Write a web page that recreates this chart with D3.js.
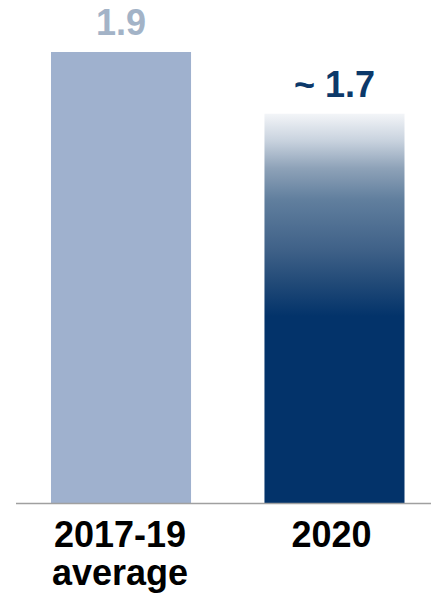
<!DOCTYPE html>
<html>
<head>
<meta charset="utf-8">
<script src="https://cdn.jsdelivr.net/npm/d3@7"></script>
<style>
  html, body { margin: 0; padding: 0; background: #ffffff; }
  svg { display: block; }
  text { font-family: "Liberation Sans", Arial, sans-serif; font-weight: bold; }
</style>
</head>
<body>
<svg id="chart" width="431" height="596"></svg>
<script>
const categories = ["2017-19 average", "2020"];
const categoryLines = [["2017-19", "average"], ["2020"]];
const values = [1.9, 1.64];
const valueLabels = ["1.9", "~ 1.7"];

const W = 431, H = 596;
const svg = d3.select("#chart");

const x = d3.scaleBand().domain(categories).range([51, 404.5]).paddingInner(0.344).paddingOuter(0);
const y = d3.scaleLinear().domain([0, 1.9]).range([503, 52]);

const defs = svg.append("defs");
const grad = defs.append("linearGradient")
  .attr("id", "g2020").attr("x1", 0).attr("y1", 0).attr("x2", 0).attr("y2", 1);
[[0, "#f3f5f8"], [0.07, "#c8d2de"], [0.14, "#8ea2b8"], [0.22, "#617f9e"],
 [0.35, "#3f6188"], [0.43, "#234b78"], [0.52, "#03336a"], [1, "#03336a"]]
  .forEach(([o, c]) => grad.append("stop").attr("offset", o).attr("stop-color", c));

const fills = ["#9fb1ce", "url(#g2020)"];
const labelColors = ["#a3b3c7", "#0c396a"];

svg.selectAll("rect.bar").data(categories).join("rect")
  .attr("class", "bar")
  .attr("x", d => x(d))
  .attr("y", (d, i) => y(values[i]))
  .attr("width", x.bandwidth())
  .attr("height", (d, i) => y(0) - y(values[i]))
  .attr("fill", (d, i) => fills[i]);

svg.append("line")
  .attr("x1", 16).attr("x2", W)
  .attr("y1", y(0) + 0.5).attr("y2", y(0) + 0.5)
  .attr("stroke", "#a0a0a0").attr("stroke-width", 1.5);

svg.selectAll("text.val").data(categories).join("text")
  .attr("class", "val")
  .attr("x", d => x(d) + x.bandwidth() / 2)
  .attr("y", (d, i) => y(values[i]) - 17)
  .attr("text-anchor", "middle")
  .attr("font-size", 36)
  .attr("fill", (d, i) => labelColors[i])
  .text((d, i) => valueLabels[i]);

const cat = svg.selectAll("text.cat").data(categories).join("text")
  .attr("class", "cat")
  .attr("x", (d, i) => x(d) + x.bandwidth() / 2 - (i === 1 ? 3 : 1))
  .attr("y", 547)
  .attr("text-anchor", "middle")
  .attr("font-size", 36)
  .attr("fill", "#000000");
cat.selectAll("tspan").data((d, i) => categoryLines[i]).join("tspan")
  .attr("x", function() { return d3.select(this.parentNode).attr("x"); })
  .attr("dy", (d, j) => j === 0 ? 0 : 38)
  .text(d => d);
</script>
</body>
</html>
